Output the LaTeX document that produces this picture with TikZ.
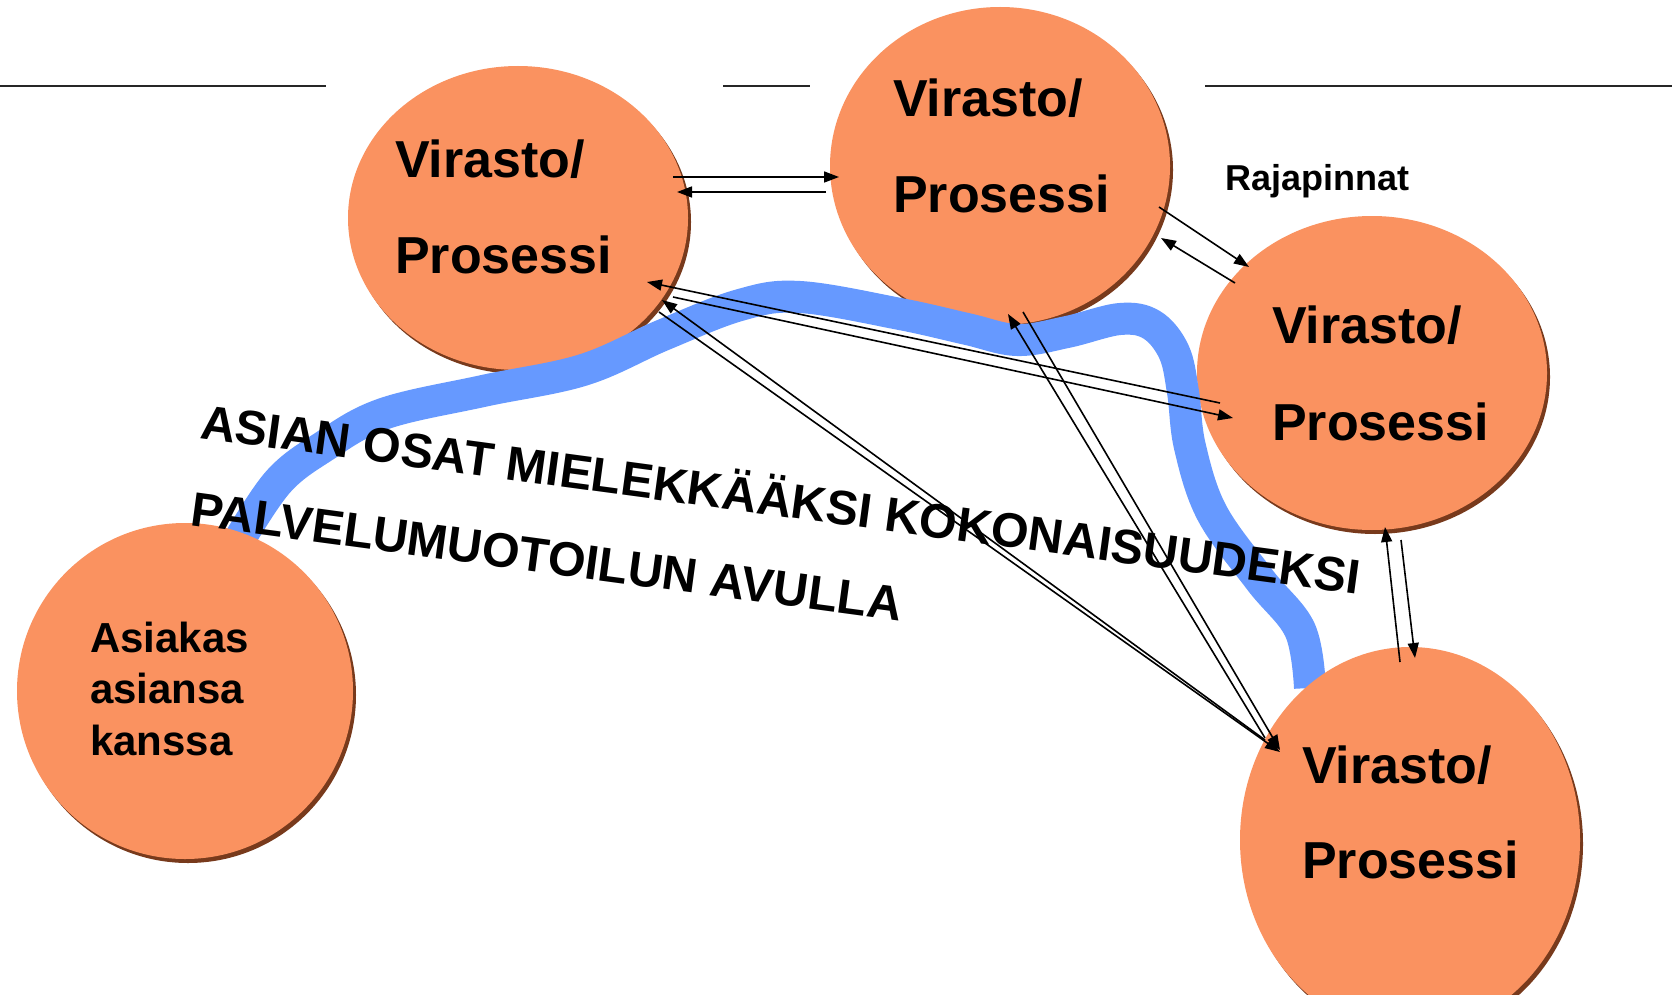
\documentclass[tikz,border=0pt]{standalone}
\usepackage{fontspec}
\setmainfont{Liberation Sans}
\usetikzlibrary{arrows.meta,shapes.geometric,calc}
\definecolor{orangefill}{RGB}{250,146,96}
\definecolor{rimcol}{RGB}{120,58,28}
\definecolor{bandblue}{RGB}{102,153,255}
\newcommand{\drawblob}[5]{%
  \node[blobshadow, minimum width=#4pt, minimum height=#5pt] at ($(#2,#3)+(3,4)$) {};
  \node[blob, minimum width=#4pt, minimum height=#5pt] (#1) at (#2,#3) {};
}
\begin{document}
\begin{tikzpicture}[x=1pt,y=-1pt,
  blob/.style={ellipse, fill=orangefill, draw=none, inner sep=0pt, outer sep=0pt},
  blobshadow/.style={ellipse, fill=rimcol, draw=none, inner sep=0pt, outer sep=0pt},
  bigtxt/.style={font=\bfseries\fontsize{52}{52}\selectfont, anchor=base west, inner sep=0pt},
  midtxt/.style={font=\bfseries\fontsize{42}{42}\selectfont, anchor=base west, inner sep=0pt},
  smalltxt/.style={font=\bfseries\fontsize{36}{36}\selectfont, anchor=base west, inner sep=0pt},
  slanttxt/.style={font=\bfseries\fontsize{48.4}{48.4}\selectfont, anchor=base west, inner sep=0pt, rotate=-7.7},
  conn/.style={line width=1.6pt, -{Triangle[length=15pt,width=11pt]}},
  rulestyle/.style={line width=2pt, black!85},
  band/.style={line width=32pt, bandblue, line cap=butt, line join=round}
]
\useasboundingbox (0,0) rectangle (1672,995);
\fill[white] (0,0) rectangle (1672,995);

% header rule
\draw[rulestyle] (0,86) -- (326,86);
\draw[rulestyle] (723,86) -- (810,86);
\draw[rulestyle] (1205,86) -- (1672,86);

% circles under the band
\drawblob{c1}{518}{218}{340}{304}
\drawblob{c2}{1000}{166}{340}{318}
\drawblob{c3}{1372}{373}{350}{314}

% blue band
\draw[band] plot[smooth, tension=0.6] coordinates {(238,542) (278,482) (323,447) (383,414) (483,391) (583,370) (663,335) (740,305) (800,297) (900,314) (967,329) (1017,340) (1067,332) (1120,319) (1152,325) (1174,352) (1183,392) (1190,447) (1212,513) (1260,580) (1300,630) (1310,688)};

% circles over the band
\drawblob{c4}{1410}{840}{340}{386}
\drawblob{c5}{185}{691}{336}{336}

% texts
\node[bigtxt] (t1a) at (395,178) {Virasto/};
\node[bigtxt] (t1b) at (395,273) {Prosessi};
\node[bigtxt] (t2a) at (893,117) {Virasto/};
\node[bigtxt] (t2b) at (893,212) {Prosessi};
\node[bigtxt] (t3a) at (1272,343) {Virasto/};
\node[bigtxt] (t3b) at (1272,440) {Prosessi};
\node[bigtxt] (t4a) at (1302,783) {Virasto/};
\node[bigtxt] (t4b) at (1302,878) {Prosessi};
\node[midtxt] (t5a) at (90,652) {Asiakas};
\node[midtxt] (t5b) at (90,703) {asiansa};
\node[midtxt] (t5c) at (90,755) {kanssa};
\node[smalltxt] (raja) at (1225,190) {Rajapinnat};
\node[slanttxt] (sl1) at (199,438) {ASIAN OSAT MIELEKKÄÄKSI KOKONAISUUDEKSI};
\node[slanttxt] (sl2) at (189,525) {PALVELUMUOTOILUN AVULLA};

% connector end points
\coordinate (c1c2s) at (673,177);  \coordinate (c1c2e) at (839,177);
\coordinate (c2c1s) at (826,192);  \coordinate (c2c1e) at (677,192);
\coordinate (c2c3s) at (1159,207); \coordinate (c2c3e) at (1249,267);
\coordinate (c3c2s) at (1235,283); \coordinate (c3c2e) at (1161,238);
\coordinate (c4c3s) at (1400,662); \coordinate (c4c3e) at (1385,527);
\coordinate (c3c4s) at (1401,540); \coordinate (c3c4e) at (1415,658);
\coordinate (c3c1s) at (1220,403); \coordinate (c3c1e) at (647,282);
\coordinate (c1c3s) at (673,297);  \coordinate (c1c3e) at (1233,418);
\coordinate (c4c1s) at (1265,740); \coordinate (c4c1e) at (662,300);
\coordinate (c1c4s) at (659,312);  \coordinate (c1c4e) at (1280,752);
\coordinate (c4c2s) at (1265,738); \coordinate (c4c2e) at (1008,314);
\coordinate (c2c4s) at (1023,312); \coordinate (c2c4e) at (1280,750);

% connectors
\draw[conn] (c1c2s) -- (c1c2e);
\draw[conn] (c2c1s) -- (c2c1e);
\draw[conn] (c2c3s) -- (c2c3e);
\draw[conn] (c3c2s) -- (c3c2e);
\draw[conn] (c4c3s) -- (c4c3e);
\draw[conn] (c3c4s) -- (c3c4e);
\draw[conn] (c3c1s) -- (c3c1e);
\draw[conn] (c1c3s) -- (c1c3e);
\draw[conn] (c4c1s) -- (c4c1e);
\draw[conn] (c1c4s) -- (c1c4e);
\draw[conn] (c4c2s) -- (c4c2e);
\draw[conn] (c2c4s) -- (c2c4e);
\end{tikzpicture}
\end{document}
